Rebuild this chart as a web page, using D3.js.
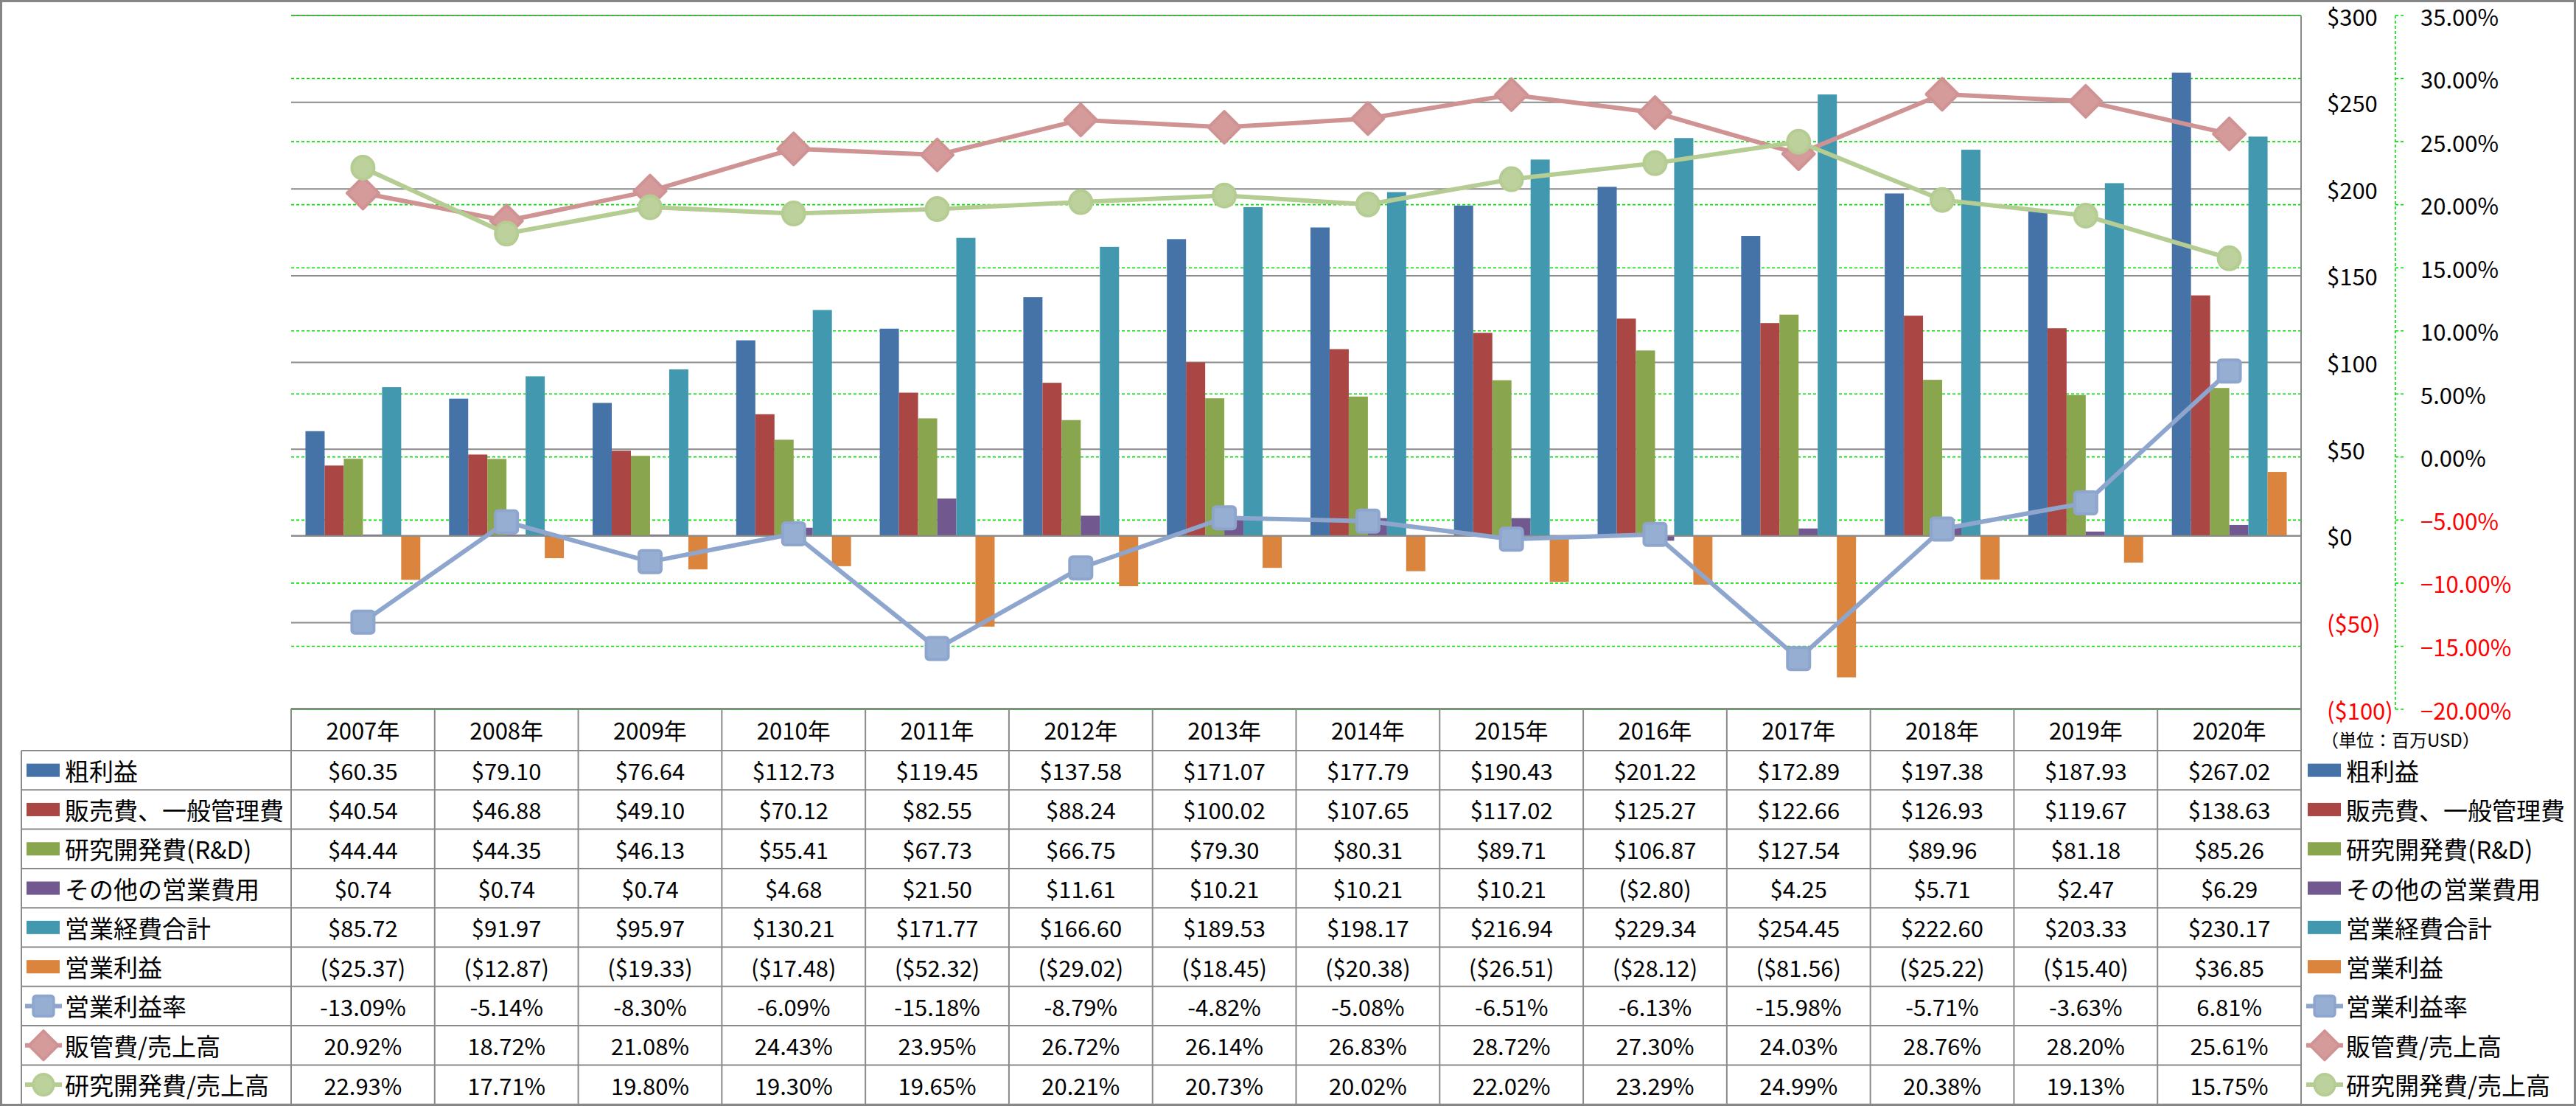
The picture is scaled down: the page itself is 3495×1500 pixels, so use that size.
<!DOCTYPE html>
<html><head><meta charset="utf-8">
<script src="https://cdn.jsdelivr.net/npm/d3@7"></script>
<style>
body{margin:0;background:#fff}
svg{display:block}
text{font-family:"Noto Sans CJK JP","Noto Sans",sans-serif;fill:#000}
</style>
</head><body>
<svg id="c" width="3495" height="1500"></svg>
<script>
// ---------------- DATA ----------------
const years = ["2007年","2008年","2009年","2010年","2011年","2012年","2013年","2014年","2015年","2016年","2017年","2018年","2019年","2020年"];
const barNames = ["粗利益","販売費、一般管理費","研究開発費(R&D)","その他の営業費用","営業経費合計","営業利益"];
const lineNames = ["営業利益率","販管費/売上高","研究開発費/売上高"];

const grossProfit = [60.35,79.10,76.64,112.73,119.45,137.58,171.07,177.79,190.43,201.22,172.89,197.38,187.93,267.02];
const sga         = [40.54,46.88,49.10,70.12,82.55,88.24,100.02,107.65,117.02,125.27,122.66,126.93,119.67,138.63];
const rnd         = [44.44,44.35,46.13,55.41,67.73,66.75,79.30,80.31,89.71,106.87,127.54,89.96,81.18,85.26];
const otherOpex   = [0.74,0.74,0.74,4.68,21.50,11.61,10.21,10.21,10.21,-2.80,4.25,5.71,2.47,6.29];
const totalOpex   = [85.72,91.97,95.97,130.21,171.77,166.60,189.53,198.17,216.94,229.34,254.45,222.60,203.33,230.17];
const opIncome    = [-25.37,-12.87,-19.33,-17.48,-52.32,-29.02,-18.45,-20.38,-26.51,-28.12,-81.56,-25.22,-15.40,36.85];

const opMargin    = [-13.09,-5.14,-8.30,-6.09,-15.18,-8.79,-4.82,-5.08,-6.51,-6.13,-15.98,-5.71,-3.63,6.81];
const sgaRatio    = [20.92,18.72,21.08,24.43,23.95,26.72,26.14,26.83,28.72,27.30,24.03,28.76,28.20,25.61];
const rndRatio    = [22.93,17.71,19.80,19.30,19.65,20.21,20.73,20.02,22.02,23.29,24.99,20.38,19.13,15.75];

const leftTicks  = [-100,-50,0,50,100,150,200,250,300];
const rightTicks = [-20,-15,-10,-5,0,5,10,15,20,25,30,35];
const unitLabel = "（単位：百万USD）";

// ---------------- STYLE ----------------
const barData = [grossProfit,sga,rnd,otherOpex,totalOpex,opIncome];
const lineData = [opMargin,sgaRatio,rndRatio];
const barColors = ["#4572A7","#AA4643","#89A54E","#71588F","#4198AF","#DB843D"];
const lineColors = ["#8EA6CD","#D09393","#B5CC93"];
const markerFill = ["#97AED3","#D59B9B","#BCD19B"];
const markerTypes = ["square","diamond","circle"];

const svg = d3.select("#c");
const P = {l:395, r:3122, t:21, b:962};
const gridGray = "#8a8a8a";

const x = d3.scaleBand().domain(years).range([P.l, P.r]);
const xb = d3.scaleBand().domain(d3.range(barNames.length)).range([0, x.bandwidth()]).paddingOuter(0.75);
const yL = d3.scaleLinear().domain([-100,300]).range([P.b, P.t]);
const yR = d3.scaleLinear().domain([-20,35]).range([P.b, P.t]);

// outer border
svg.append("rect").attr("x",1.5).attr("y",1.5).attr("width",3492).attr("height",1497)
  .attr("fill","none").attr("stroke","#868686").attr("stroke-width",3);

// gray gridlines (left axis)
svg.append("g").selectAll("line").data(leftTicks).join("line")
  .attr("x1",P.l).attr("x2",P.r).attr("y1",d=>yL(d)).attr("y2",d=>yL(d))
  .attr("stroke",gridGray).attr("stroke-width",2);
// green dashed gridlines (right axis)
svg.append("g").selectAll("line").data(rightTicks).join("line")
  .attr("x1",P.l).attr("x2",P.r).attr("y1",d=>yR(d)).attr("y2",d=>yR(d))
  .attr("stroke","#00E000").attr("stroke-width",1.6).attr("stroke-dasharray","4,3");

// bars
const gBars = svg.append("g");
years.forEach((yr,i)=>{
  barData.forEach((s,j)=>{
    const v = s[i];
    gBars.append("rect")
      .attr("x", x(yr)+xb(j))
      .attr("width", xb.bandwidth())
      .attr("y", Math.min(yL(v), yL(0)))
      .attr("height", Math.abs(yL(v)-yL(0)))
      .attr("fill", barColors[j]);
  });
});
// zero line on top of bars
svg.append("line").attr("x1",P.l).attr("x2",P.r).attr("y1",yL(0)).attr("y2",yL(0))
  .attr("stroke",gridGray).attr("stroke-width",2);

// markers
function marker(g, type, cx, cy, k, scale){
  const s = scale||1;
  if(type==="square"){
    g.append("rect").attr("x",cx-15*s).attr("y",cy-15*s).attr("width",30*s).attr("height",30*s)
      .attr("rx",4*s).attr("fill",markerFill[k]).attr("stroke",lineColors[k]).attr("stroke-width",4*s);
  } else if(type==="diamond"){
    const r=21.5*s;
    g.append("path").attr("d",`M${cx},${cy-r}L${cx+r},${cy}L${cx},${cy+r}L${cx-r},${cy}Z`)
      .attr("fill",markerFill[k]).attr("stroke",lineColors[k]).attr("stroke-width",4*s).attr("stroke-linejoin","round");
  } else {
    g.append("ellipse").attr("cx",cx).attr("cy",cy).attr("rx",15*s).attr("ry",15.5*s)
      .attr("fill",markerFill[k]).attr("stroke",lineColors[k]).attr("stroke-width",4*s);
  }
}

// lines
const cx = yr => x(yr)+x.bandwidth()/2;
lineData.forEach((s,k)=>{
  const g = svg.append("g");
  const line = d3.line().x((d,i)=>cx(years[i])).y(d=>yR(d));
  g.append("path").datum(s).attr("d",line).attr("fill","none")
    .attr("stroke",lineColors[k]).attr("stroke-width",6).attr("stroke-linejoin","round");
  s.forEach((v,i)=>marker(g, markerTypes[k], cx(years[i]), yR(v), k));
});

// right side vertical border of plot/table
svg.append("line").attr("x1",P.r).attr("x2",P.r).attr("y1",P.t).attr("y2",1498)
  .attr("stroke",gridGray).attr("stroke-width",2);

// axis labels (left/$ axis, drawn at right)
const fmtMoneyAxis = v => v<0 ? `($${Math.abs(v)})` : `$${v}`;
svg.append("g").selectAll("text").data(leftTicks).join("text")
  .attr("x",3157).attr("y",d=>yL(d)).attr("dominant-baseline","central")
  .attr("font-size",31).style("fill",d=>d<0?"#FF0000":"#000").text(fmtMoneyAxis);

// secondary axis line + ticks
svg.append("line").attr("x1",3250).attr("x2",3250).attr("y1",P.t).attr("y2",P.b)
  .attr("stroke","#00E000").attr("stroke-width",1.6).attr("stroke-dasharray","4,3");
svg.append("g").selectAll("line").data(rightTicks).join("line")
  .attr("x1",3250).attr("x2",3262).attr("y1",d=>yR(d)).attr("y2",d=>yR(d))
  .attr("stroke","#00E000").attr("stroke-width",1.6).attr("stroke-dasharray","4,3");
svg.append("g").selectAll("text").data(rightTicks).join("text")
  .attr("x",3284).attr("y",d=>yR(d)).attr("dominant-baseline","central")
  .attr("font-size",31).style("fill",d=>d<0?"#FF0000":"#000").text(d=>d3.format(".2f")(d)+"%");

svg.append("text").attr("x",3149).attr("y",1002).attr("dominant-baseline","central")
  .attr("font-size",24).text(unitLabel);

// ---------------- TABLE ----------------
const headTop = 961, row0 = 1018, rowH = 53.3, nRows = 9;
const labelL = 29;
const gT = svg.append("g");
// header top line
gT.append("line").attr("x1",P.l).attr("x2",P.r).attr("y1",headTop).attr("y2",headTop)
  .attr("stroke",gridGray).attr("stroke-width",2);
for(let r=0;r<=nRows;r++){
  const y = row0 + r*rowH;
  gT.append("line").attr("x1",labelL).attr("x2",P.r).attr("y1",y).attr("y2",y)
    .attr("stroke",gridGray).attr("stroke-width",2);
}
gT.append("line").attr("x1",labelL).attr("x2",labelL).attr("y1",row0).attr("y2",1498)
  .attr("stroke",gridGray).attr("stroke-width",2);
years.forEach(yr=>{
  gT.append("line").attr("x1",x(yr)).attr("x2",x(yr)).attr("y1",headTop).attr("y2",1498)
    .attr("stroke",gridGray).attr("stroke-width",2);
});
// header text
gT.selectAll("text.h").data(years).join("text").attr("class","h")
  .attr("x",d=>cx(d)).attr("y",(headTop+row0)/2).attr("text-anchor","middle")
  .attr("dominant-baseline","central").attr("font-size",31).text(d=>d);

const allNames = barNames.concat(lineNames);
const allData = barData.concat(lineData);
const fmtMoney = v => v<0 ? `($${Math.abs(v).toFixed(2)})` : `$${v.toFixed(2)}`;
const fmtPct = v => v.toFixed(2)+"%";

function swatch(g, r, x0){
  const yc = row0 + r*rowH + rowH/2;
  if(r<barNames.length){
    g.append("rect").attr("x",x0).attr("y",yc-9).attr("width",45).attr("height",18).attr("fill",barColors[r]);
  } else {
    const k = r-barNames.length;
    g.append("line").attr("x1",x0-2).attr("x2",x0+48).attr("y1",yc).attr("y2",yc)
      .attr("stroke",lineColors[k]).attr("stroke-width",6);
    marker(g, markerTypes[k], x0+23, yc, k, 0.92);
  }
}

allNames.forEach((name,r)=>{
  const yc = row0 + r*rowH + rowH/2;
  // table row label
  swatch(gT, r, 36);
  gT.append("text").attr("x",88).attr("y",yc).attr("dominant-baseline","central")
    .attr("font-size",33).text(name);
  // values
  const fmt = r<barNames.length ? fmtMoney : fmtPct;
  allData[r].forEach((v,i)=>{
    gT.append("text").attr("x",cx(years[i])).attr("y",yc).attr("text-anchor","middle")
      .attr("dominant-baseline","central").attr("font-size",31).text(fmt(v));
  });
  // right legend
  swatch(gT, r, 3131);
  gT.append("text").attr("x",3183).attr("y",yc).attr("dominant-baseline","central")
    .attr("font-size",33).text(name);
});
</script>
</body></html>
